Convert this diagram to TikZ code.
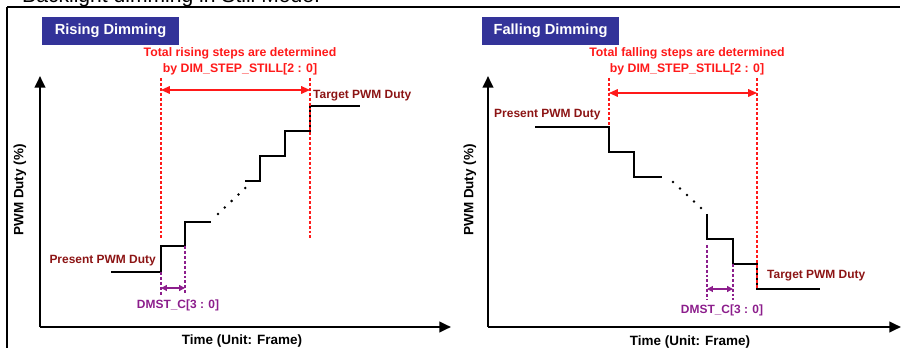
\documentclass[tikz,border=0pt]{standalone}
\usepackage{fontspec}
\setmainfont{Liberation Sans}
\usetikzlibrary{arrows.meta}
\definecolor{titleblue}{RGB}{51,51,153}
\definecolor{dimred}{RGB}{255,25,25}
\definecolor{dutyred}{RGB}{140,20,20}
\definecolor{stepviolet}{RGB}{140,30,140}
\begin{document}
\begin{tikzpicture}[x=0.03cm, y=-0.03cm,
    titlebox/.style={fill=titleblue, text=white, inner sep=0pt, minimum width=4.11cm, minimum height=0.84cm, font=\fontsize{12.5}{14}\selectfont\bfseries},
    stepnote/.style={text=dimred, align=center, inner sep=0pt, font=\fontsize{10.5}{13.6}\selectfont\bfseries},
    dutylabel/.style={text=dutyred, inner sep=0pt, font=\fontsize{10.2}{12}\selectfont\bfseries},
    dmstlabel/.style={text=stepviolet, inner sep=0pt, font=\fontsize{10.2}{12}\selectfont\bfseries},
    axislabel/.style={inner sep=0pt, font=\fontsize{11.5}{13}\selectfont\bfseries},
    axis/.style={line width=2pt, -{Triangle[length=10pt, width=9pt]}},
    wave/.style={line width=1.6pt},
    redmark/.style={dimred, line width=0.9pt, dash pattern=on 2.5pt off 1.7pt},
    redspan/.style={dimred, line width=1.1pt, {Triangle[length=7.5pt, width=6.5pt]}-{Triangle[length=7.5pt, width=6.5pt]}},
    violetmark/.style={stepviolet, line width=0.9pt, dash pattern=on 2.5pt off 1.7pt},
    violetspan/.style={stepviolet, line width=1.1pt, {Triangle[length=5pt, width=5pt]}-{Triangle[length=5pt, width=5pt]}}
]
    \useasboundingbox (0,0) rectangle (901,348);

    % Page title (cut at the top edge) and frame
    \node[anchor=base west, inner sep=0pt, font=\fontsize{18}{20}\selectfont] (pagetitle) at (22,2.5) {Backlight dimming in Still Mode.};
    \coordinate (frametl) at (7,7);
    \draw[line width=1.2pt] (frametl) -- (900,7);
    \draw[line width=1.2pt] (frametl) -- (7,348);

    % ---------- Rising Dimming ----------
    \node[titlebox] (risetitle) at (110.5,31) {Rising Dimming};
    \node[stepnote] (risenote) at (240,61) {Total rising steps are determined\\by DIM\_STEP\_STILL[2 : 0]};

    % Axes
    \coordinate (riseorigin) at (40,327);
    \coordinate (riseytip) at (40,76);
    \coordinate (risextip) at (451,327);
    \draw[axis] (riseorigin) -- (riseytip);
    \draw[axis] (riseorigin) -- (risextip);
    \node[axislabel, rotate=90] (riseylabel) at (20,190) {PWM Duty (\%)};
    \node[axislabel] (risexlabel) at (242,341) {Time (Unit: Frame)};

    % Steps
    \draw[wave] (111,272) -- (161,272) -- (161,246) -- (185,246) -- (185,222) -- (211,222);
    \foreach \i in {0,...,4}
        \fill ({218+\i*6.8},{214-\i*6.5}) circle (1.4);
    \draw[wave] (245,181) -- (260,181) -- (260,156) -- (285,156) -- (285,131) -- (310,131) -- (310,106) -- (360,106);

    % Total steps span
    \coordinate (risestart) at (161,78);
    \coordinate (riseend) at (310,78);
    \coordinate (risestartlow) at (161,240);
    \coordinate (riseendlow) at (310,240);
    \draw[redmark] (risestart) -- (risestartlow);
    \draw[redmark] (riseend) -- (riseendlow);
    \coordinate (risespanl) at (161,90);
    \coordinate (risespanr) at (310,90);
    \draw[redspan] (risespanl) -- (risespanr);

    % One step span
    \coordinate (risedmstl) at (161,272);
    \coordinate (risedmstr) at (185,246);
    \draw[violetmark] (risedmstl) -- (161,295);
    \draw[violetmark] (risedmstr) -- (185,295);
    \coordinate (risedmstal) at (161,288);
    \coordinate (risedmstar) at (185,288);
    \draw[violetspan] (risedmstal) -- (risedmstar);

    \node[dutylabel, anchor=west] (risetarget) at (313,96) {Target PWM Duty};
    \node[dutylabel, anchor=east] (risepresent) at (156,261) {Present PWM Duty};
    \node[dmstlabel] (risedmst) at (178,305) {DMST\_C[3 : 0]};

    % ---------- Falling Dimming ----------
    \node[titlebox] (falltitle) at (550.5,31) {Falling Dimming};
    \node[stepnote] (fallnote) at (687,61) {Total falling steps are determined\\by DIM\_STEP\_STILL[2 : 0]};

    % Axes
    \coordinate (fallorigin) at (488,327);
    \coordinate (fallytip) at (488,76);
    \coordinate (fallxtip) at (901,327);
    \draw[axis] (fallorigin) -- (fallytip);
    \draw[axis] (fallorigin) -- (fallxtip);
    \node[axislabel, rotate=90] (fallylabel) at (470,190) {PWM Duty (\%)};
    \node[axislabel] (fallxlabel) at (690,342) {Time (Unit: Frame)};

    % Steps
    \draw[wave] (535,127) -- (609,127) -- (609,152) -- (634,152) -- (634,177) -- (662,177);
    \foreach \i in {0,...,4}
        \fill ({673+\i*7},{182+\i*6.5}) circle (1.4);
    \draw[wave] (707,214) -- (707,239) -- (733,239) -- (733,264) -- (757,264) -- (757,289) -- (820,289);

    % Total steps span
    \coordinate (fallstart) at (609,78);
    \coordinate (fallend) at (757,78);
    \coordinate (fallstartlow) at (609,127);
    \coordinate (fallendlow) at (757,289);
    \draw[redmark] (fallstart) -- (fallstartlow);
    \draw[redmark] (fallend) -- (fallendlow);
    \coordinate (fallspanl) at (609,93);
    \coordinate (fallspanr) at (757,93);
    \draw[redspan] (fallspanl) -- (fallspanr);

    % One step span
    \coordinate (falldmstl) at (707,245);
    \coordinate (falldmstr) at (733,264);
    \draw[violetmark] (falldmstl) -- (707,300);
    \draw[violetmark] (falldmstr) -- (733,300);
    \coordinate (falldmstal) at (707,289);
    \coordinate (falldmstar) at (733,289);
    \draw[violetspan] (falldmstal) -- (falldmstar);

    \node[dutylabel, anchor=west] (fallpresent) at (494,115) {Present PWM Duty};
    \node[dutylabel, anchor=west] (falltarget) at (767,276) {Target PWM Duty};
    \node[dmstlabel] (falldmst) at (722,310) {DMST\_C[3 : 0]};
\end{tikzpicture}
\end{document}
